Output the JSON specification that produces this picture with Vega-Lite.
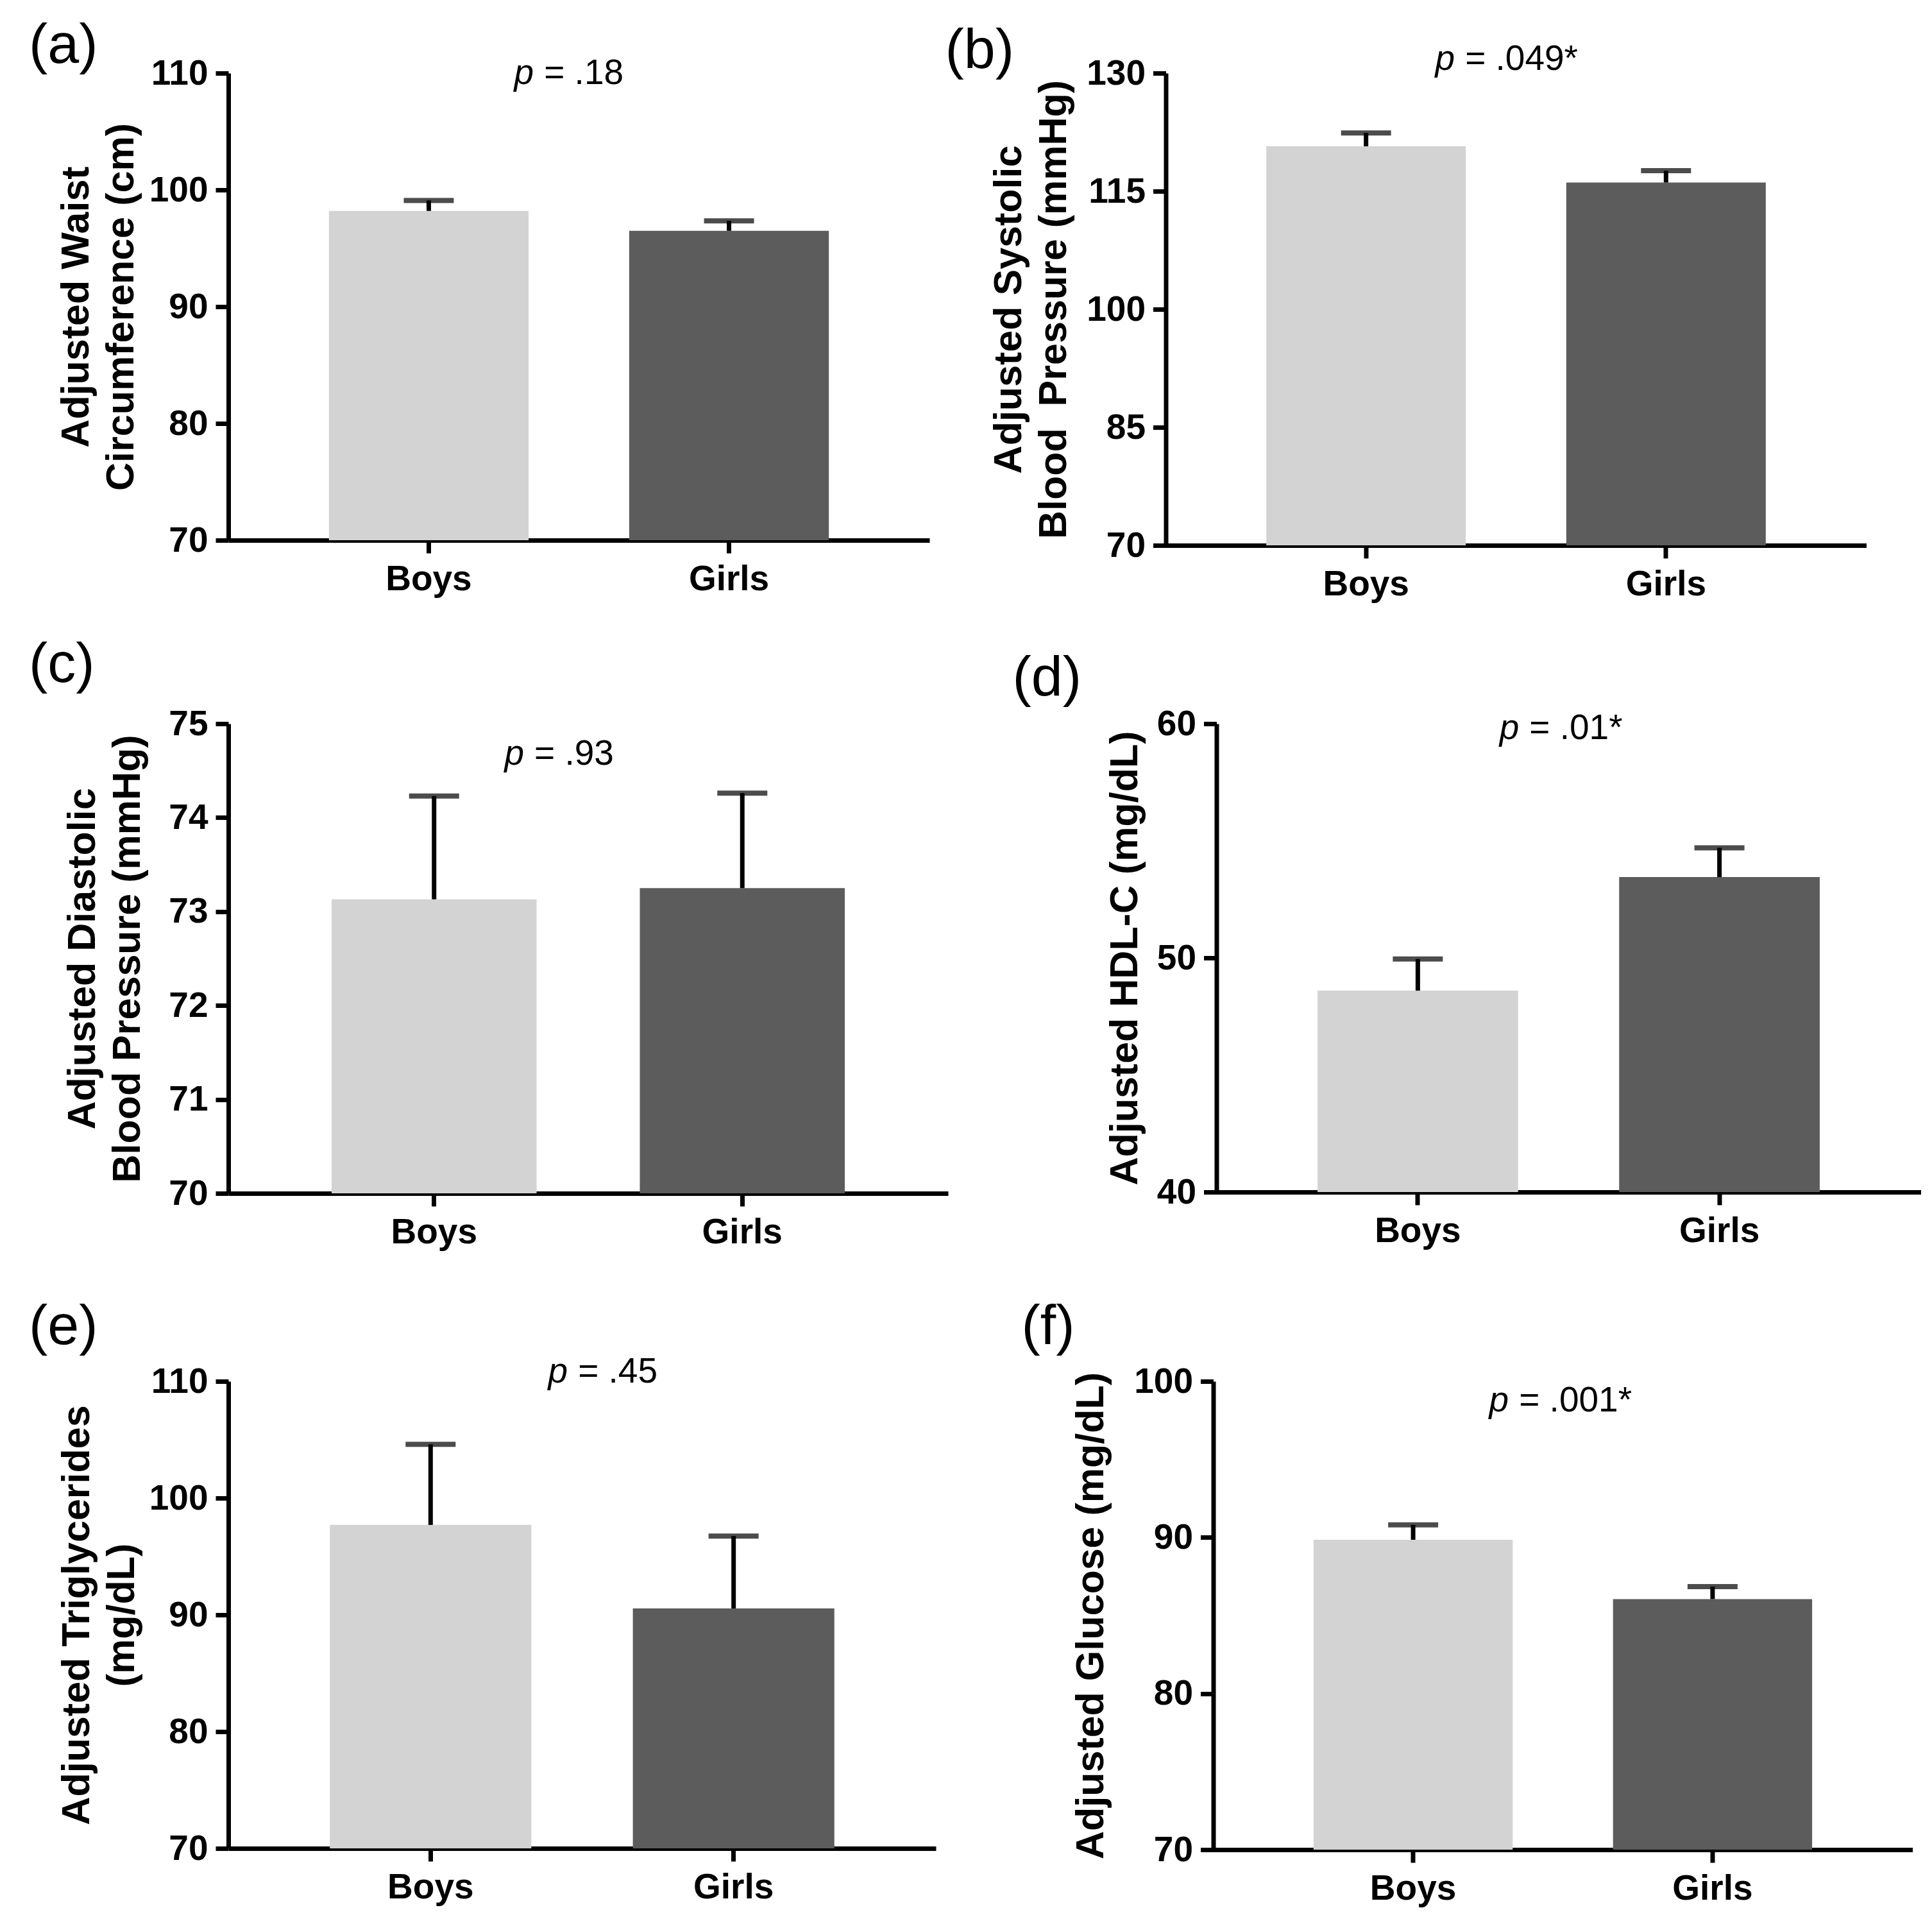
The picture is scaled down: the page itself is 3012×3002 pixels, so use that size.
{
  "$schema": "https://vega.github.io/schema/vega-lite/v6.json",
  "padding": {"left": 45, "top": 27, "right": 5, "bottom": 5},
  "background": "white",
  "datasets": {
    "bars": [
      {"panel": "a", "group": "Boys", "mean": 98.2, "upper": 99.1},
      {"panel": "a", "group": "Girls", "mean": 96.5, "upper": 97.35},
      {"panel": "b", "group": "Boys", "mean": 120.7, "upper": 122.4},
      {"panel": "b", "group": "Girls", "mean": 116.1, "upper": 117.6},
      {"panel": "c", "group": "Boys", "mean": 73.13, "upper": 74.23},
      {"panel": "c", "group": "Girls", "mean": 73.25, "upper": 74.26},
      {"panel": "d", "group": "Boys", "mean": 48.6, "upper": 49.95},
      {"panel": "d", "group": "Girls", "mean": 53.45, "upper": 54.7},
      {"panel": "e", "group": "Boys", "mean": 97.7, "upper": 104.6},
      {"panel": "e", "group": "Girls", "mean": 90.55, "upper": 96.75},
      {"panel": "f", "group": "Boys", "mean": 89.85, "upper": 90.8},
      {"panel": "f", "group": "Girls", "mean": 86.05, "upper": 86.85}
    ],
    "notes": [
      {"panel": "a", "p": "p", "val": "= .18"},
      {"panel": "b", "p": "p", "val": "= .049*"},
      {"panel": "c", "p": "p", "val": "= .93"},
      {"panel": "d", "p": "p", "val": "= .01*"},
      {"panel": "e", "p": "p", "val": "= .45"},
      {"panel": "f", "p": "p", "val": "= .001*"}
    ]
  },
  "spacing": 55,
  "vconcat": [
    {
      "spacing": 24.5,
      "hconcat": [
        {
          "width": 1093, "height": 728,
          "title": {"text": "(a)", "dx": -311, "offset": -29},
          "resolve": {"scale": {"x": "independent"}},
          "layer": [
            {"data": {"name": "bars"}, "transform": [{"filter": "datum.panel === 'a'"}], "mark": "bar",
             "encoding": {
               "x": {"field": "group", "type": "nominal", "scale": {"type": "band", "paddingInner": 0.335, "paddingOuter": 0.335}, "axis": {"title": null}},
               "y": {"field": "mean", "type": "quantitative", "scale": {"domain": [70, 110], "zero": false, "nice": false}, "axis": {"values": [70, 80, 90, 100, 110], "title": ["Adjusted Waist", "Circumference (cm)"], "titlePadding": 12}},
               "y2": {"datum": 70},
               "color": {"field": "group", "type": "nominal", "scale": {"domain": ["Boys", "Girls"], "range": ["#d3d3d3", "#5c5c5c"]}, "legend": null}
             }},
            {"data": {"name": "bars"}, "transform": [{"filter": "datum.panel === 'a'"}], "mark": {"type": "rule", "strokeWidth": 7, "color": "black"},
             "encoding": {
               "x": {"field": "group", "type": "nominal", "scale": {"type": "band", "paddingInner": 0.335, "paddingOuter": 0.335}, "axis": null},
               "y": {"field": "mean", "type": "quantitative"},
               "y2": {"field": "upper"}
             }},
            {"data": {"name": "bars"}, "transform": [{"filter": "datum.panel === 'a'"}], "mark": {"type": "tick", "size": 78, "thickness": 8, "color": "black"},
             "encoding": {
               "x": {"field": "group", "type": "nominal", "scale": {"type": "band", "paddingInner": 0.335, "paddingOuter": 0.335}, "axis": null},
               "y": {"field": "upper", "type": "quantitative"}
             }},
            {"data": {"name": "notes"}, "transform": [{"filter": "datum.panel === 'a'"}], "mark": {"type": "text", "align": "right", "baseline": "alphabetic", "fontStyle": "italic", "dx": -8},
             "encoding": {
               "x": {"datum": 0.443, "type": "quantitative", "scale": {"domain": [0, 1]}, "axis": null},
               "y": {"datum": 109.07, "type": "quantitative"},
               "text": {"field": "p"}
             }},
            {"data": {"name": "notes"}, "transform": [{"filter": "datum.panel === 'a'"}], "mark": {"type": "text", "align": "left", "baseline": "alphabetic", "dx": 8},
             "encoding": {
               "x": {"datum": 0.443, "type": "quantitative", "scale": {"domain": [0, 1]}, "axis": null},
               "y": {"datum": 109.07, "type": "quantitative"},
               "text": {"field": "val"}
             }}
          ]
        },
        {
          "width": 1092, "height": 736,
          "title": {"text": "(b)", "dx": -344, "offset": -59},
          "resolve": {"scale": {"x": "independent"}},
          "layer": [
            {"data": {"name": "bars"}, "transform": [{"filter": "datum.panel === 'b'"}], "mark": "bar",
             "encoding": {
               "x": {"field": "group", "type": "nominal", "scale": {"type": "band", "paddingInner": 0.335, "paddingOuter": 0.335}, "axis": {"title": null}},
               "y": {"field": "mean", "type": "quantitative", "scale": {"domain": [70, 130], "zero": false, "nice": false}, "axis": {"values": [70, 85, 100, 115, 130], "title": ["Adjusted Systolic", "Blood\u00a0 Pressure (mmHg)"], "titlePadding": 19}},
               "y2": {"datum": 70},
               "color": {"field": "group", "type": "nominal", "scale": {"domain": ["Boys", "Girls"], "range": ["#d3d3d3", "#5c5c5c"]}, "legend": null}
             }},
            {"data": {"name": "bars"}, "transform": [{"filter": "datum.panel === 'b'"}], "mark": {"type": "rule", "strokeWidth": 7, "color": "black"},
             "encoding": {
               "x": {"field": "group", "type": "nominal", "scale": {"type": "band", "paddingInner": 0.335, "paddingOuter": 0.335}, "axis": null},
               "y": {"field": "mean", "type": "quantitative"},
               "y2": {"field": "upper"}
             }},
            {"data": {"name": "bars"}, "transform": [{"filter": "datum.panel === 'b'"}], "mark": {"type": "tick", "size": 78, "thickness": 8, "color": "black"},
             "encoding": {
               "x": {"field": "group", "type": "nominal", "scale": {"type": "band", "paddingInner": 0.335, "paddingOuter": 0.335}, "axis": null},
               "y": {"field": "upper", "type": "quantitative"}
             }},
            {"data": {"name": "notes"}, "transform": [{"filter": "datum.panel === 'b'"}], "mark": {"type": "text", "align": "right", "baseline": "alphabetic", "fontStyle": "italic", "dx": -8},
             "encoding": {
               "x": {"datum": 0.42, "type": "quantitative", "scale": {"domain": [0, 1]}, "axis": null},
               "y": {"datum": 130.4, "type": "quantitative"},
               "text": {"field": "p"}
             }},
            {"data": {"name": "notes"}, "transform": [{"filter": "datum.panel === 'b'"}], "mark": {"type": "text", "align": "left", "baseline": "alphabetic", "dx": 8},
             "encoding": {
               "x": {"datum": 0.42, "type": "quantitative", "scale": {"domain": [0, 1]}, "axis": null},
               "y": {"datum": 130.4, "type": "quantitative"},
               "text": {"field": "val"}
             }}
          ]
        }
      ]
    },
    {
      "spacing": 76,
      "vconcat": [
        {
          "spacing": 100.5,
          "hconcat": [
            {
              "width": 1122, "height": 732,
              "title": {"text": "(c)", "dx": -311, "offset": 20},
              "resolve": {"scale": {"x": "independent"}},
              "layer": [
                {"data": {"name": "bars"}, "transform": [{"filter": "datum.panel === 'c'"}], "mark": "bar",
                 "encoding": {
                   "x": {"field": "group", "type": "nominal", "scale": {"type": "band", "paddingInner": 0.335, "paddingOuter": 0.335}, "axis": {"title": null}},
                   "y": {"field": "mean", "type": "quantitative", "scale": {"domain": [70, 75], "zero": false, "nice": false}, "axis": {"values": [70, 71, 72, 73, 74, 75], "format": "d", "title": ["Adjusted Diastolic", "Blood Pressure (mmHg)"], "titlePadding": 32}},
                   "y2": {"datum": 70},
                   "color": {"field": "group", "type": "nominal", "scale": {"domain": ["Boys", "Girls"], "range": ["#d3d3d3", "#5c5c5c"]}, "legend": null}
                 }},
                {"data": {"name": "bars"}, "transform": [{"filter": "datum.panel === 'c'"}], "mark": {"type": "rule", "strokeWidth": 7, "color": "black"},
                 "encoding": {
                   "x": {"field": "group", "type": "nominal", "scale": {"type": "band", "paddingInner": 0.335, "paddingOuter": 0.335}, "axis": null},
                   "y": {"field": "mean", "type": "quantitative"},
                   "y2": {"field": "upper"}
                 }},
                {"data": {"name": "bars"}, "transform": [{"filter": "datum.panel === 'c'"}], "mark": {"type": "tick", "size": 78, "thickness": 8, "color": "black"},
                 "encoding": {
                   "x": {"field": "group", "type": "nominal", "scale": {"type": "band", "paddingInner": 0.335, "paddingOuter": 0.335}, "axis": null},
                   "y": {"field": "upper", "type": "quantitative"}
                 }},
                {"data": {"name": "notes"}, "transform": [{"filter": "datum.panel === 'c'"}], "mark": {"type": "text", "align": "right", "baseline": "alphabetic", "fontStyle": "italic", "dx": -8},
                 "encoding": {
                   "x": {"datum": 0.418, "type": "quantitative", "scale": {"domain": [0, 1]}, "axis": null},
                   "y": {"datum": 74.56, "type": "quantitative"},
                   "text": {"field": "p"}
                 }},
                {"data": {"name": "notes"}, "transform": [{"filter": "datum.panel === 'c'"}], "mark": {"type": "text", "align": "left", "baseline": "alphabetic", "dx": 8},
                 "encoding": {
                   "x": {"datum": 0.418, "type": "quantitative", "scale": {"domain": [0, 1]}, "axis": null},
                   "y": {"datum": 74.56, "type": "quantitative"},
                   "text": {"field": "val"}
                 }}
              ]
            },
            {
              "width": 1098, "height": 730,
              "title": {"text": "(d)", "dx": -318, "offset": -1},
              "resolve": {"scale": {"x": "independent"}},
              "layer": [
                {"data": {"name": "bars"}, "transform": [{"filter": "datum.panel === 'd'"}], "mark": "bar",
                 "encoding": {
                   "x": {"field": "group", "type": "nominal", "scale": {"type": "band", "paddingInner": 0.335, "paddingOuter": 0.335}, "axis": {"title": null}},
                   "y": {"field": "mean", "type": "quantitative", "scale": {"domain": [40, 60], "zero": false, "nice": false}, "axis": {"values": [40, 50, 60], "title": "Adjusted HDL-C (mg/dL)", "titlePadding": 18}},
                   "y2": {"datum": 40},
                   "color": {"field": "group", "type": "nominal", "scale": {"domain": ["Boys", "Girls"], "range": ["#d3d3d3", "#5c5c5c"]}, "legend": null}
                 }},
                {"data": {"name": "bars"}, "transform": [{"filter": "datum.panel === 'd'"}], "mark": {"type": "rule", "strokeWidth": 7, "color": "black"},
                 "encoding": {
                   "x": {"field": "group", "type": "nominal", "scale": {"type": "band", "paddingInner": 0.335, "paddingOuter": 0.335}, "axis": null},
                   "y": {"field": "mean", "type": "quantitative"},
                   "y2": {"field": "upper"}
                 }},
                {"data": {"name": "bars"}, "transform": [{"filter": "datum.panel === 'd'"}], "mark": {"type": "tick", "size": 78, "thickness": 8, "color": "black"},
                 "encoding": {
                   "x": {"field": "group", "type": "nominal", "scale": {"type": "band", "paddingInner": 0.335, "paddingOuter": 0.335}, "axis": null},
                   "y": {"field": "upper", "type": "quantitative"}
                 }},
                {"data": {"name": "notes"}, "transform": [{"filter": "datum.panel === 'd'"}], "mark": {"type": "text", "align": "right", "baseline": "alphabetic", "fontStyle": "italic", "dx": -8},
                 "encoding": {
                   "x": {"datum": 0.437, "type": "quantitative", "scale": {"domain": [0, 1]}, "axis": null},
                   "y": {"datum": 59.34, "type": "quantitative"},
                   "text": {"field": "p"}
                 }},
                {"data": {"name": "notes"}, "transform": [{"filter": "datum.panel === 'd'"}], "mark": {"type": "text", "align": "left", "baseline": "alphabetic", "dx": 8},
                 "encoding": {
                   "x": {"datum": 0.437, "type": "quantitative", "scale": {"domain": [0, 1]}, "axis": null},
                   "y": {"datum": 59.34, "type": "quantitative"},
                   "text": {"field": "val"}
                 }}
              ]
            }
          ]
        },
        {
          "spacing": 133.5,
          "hconcat": [
            {
              "width": 1103, "height": 728,
              "title": {"text": "(e)", "dx": -311, "offset": -2},
              "resolve": {"scale": {"x": "independent"}},
              "layer": [
                {"data": {"name": "bars"}, "transform": [{"filter": "datum.panel === 'e'"}], "mark": "bar",
                 "encoding": {
                   "x": {"field": "group", "type": "nominal", "scale": {"type": "band", "paddingInner": 0.335, "paddingOuter": 0.335}, "axis": {"title": null}},
                   "y": {"field": "mean", "type": "quantitative", "scale": {"domain": [70, 110], "zero": false, "nice": false}, "axis": {"values": [70, 80, 90, 100, 110], "title": ["Adjusted Triglycerides", "(mg/dL)"], "titlePadding": 11}},
                   "y2": {"datum": 70},
                   "color": {"field": "group", "type": "nominal", "scale": {"domain": ["Boys", "Girls"], "range": ["#d3d3d3", "#5c5c5c"]}, "legend": null}
                 }},
                {"data": {"name": "bars"}, "transform": [{"filter": "datum.panel === 'e'"}], "mark": {"type": "rule", "strokeWidth": 7, "color": "black"},
                 "encoding": {
                   "x": {"field": "group", "type": "nominal", "scale": {"type": "band", "paddingInner": 0.335, "paddingOuter": 0.335}, "axis": null},
                   "y": {"field": "mean", "type": "quantitative"},
                   "y2": {"field": "upper"}
                 }},
                {"data": {"name": "bars"}, "transform": [{"filter": "datum.panel === 'e'"}], "mark": {"type": "tick", "size": 78, "thickness": 8, "color": "black"},
                 "encoding": {
                   "x": {"field": "group", "type": "nominal", "scale": {"type": "band", "paddingInner": 0.335, "paddingOuter": 0.335}, "axis": null},
                   "y": {"field": "upper", "type": "quantitative"}
                 }},
                {"data": {"name": "notes"}, "transform": [{"filter": "datum.panel === 'e'"}], "mark": {"type": "text", "align": "right", "baseline": "alphabetic", "fontStyle": "italic", "dx": -8},
                 "encoding": {
                   "x": {"datum": 0.487, "type": "quantitative", "scale": {"domain": [0, 1]}, "axis": null},
                   "y": {"datum": 109.9, "type": "quantitative"},
                   "text": {"field": "p"}
                 }},
                {"data": {"name": "notes"}, "transform": [{"filter": "datum.panel === 'e'"}], "mark": {"type": "text", "align": "left", "baseline": "alphabetic", "dx": 8},
                 "encoding": {
                   "x": {"datum": 0.487, "type": "quantitative", "scale": {"domain": [0, 1]}, "axis": null},
                   "y": {"datum": 109.9, "type": "quantitative"},
                   "text": {"field": "val"}
                 }}
              ]
            },
            {
              "width": 1090, "height": 730,
              "title": {"text": "(f)", "dx": -299, "offset": 13},
              "resolve": {"scale": {"x": "independent"}},
              "layer": [
                {"data": {"name": "bars"}, "transform": [{"filter": "datum.panel === 'f'"}], "mark": "bar",
                 "encoding": {
                   "x": {"field": "group", "type": "nominal", "scale": {"type": "band", "paddingInner": 0.335, "paddingOuter": 0.335}, "axis": {"title": null}},
                   "y": {"field": "mean", "type": "quantitative", "scale": {"domain": [70, 100], "zero": false, "nice": false}, "axis": {"values": [70, 80, 90, 100], "title": "Adjusted Glucose (mg/dL)", "titlePadding": 35}},
                   "y2": {"datum": 70},
                   "color": {"field": "group", "type": "nominal", "scale": {"domain": ["Boys", "Girls"], "range": ["#d3d3d3", "#5c5c5c"]}, "legend": null}
                 }},
                {"data": {"name": "bars"}, "transform": [{"filter": "datum.panel === 'f'"}], "mark": {"type": "rule", "strokeWidth": 7, "color": "black"},
                 "encoding": {
                   "x": {"field": "group", "type": "nominal", "scale": {"type": "band", "paddingInner": 0.335, "paddingOuter": 0.335}, "axis": null},
                   "y": {"field": "mean", "type": "quantitative"},
                   "y2": {"field": "upper"}
                 }},
                {"data": {"name": "bars"}, "transform": [{"filter": "datum.panel === 'f'"}], "mark": {"type": "tick", "size": 78, "thickness": 8, "color": "black"},
                 "encoding": {
                   "x": {"field": "group", "type": "nominal", "scale": {"type": "band", "paddingInner": 0.335, "paddingOuter": 0.335}, "axis": null},
                   "y": {"field": "upper", "type": "quantitative"}
                 }},
                {"data": {"name": "notes"}, "transform": [{"filter": "datum.panel === 'f'"}], "mark": {"type": "text", "align": "right", "baseline": "alphabetic", "fontStyle": "italic", "dx": -8},
                 "encoding": {
                   "x": {"datum": 0.43, "type": "quantitative", "scale": {"domain": [0, 1]}, "axis": null},
                   "y": {"datum": 98.07, "type": "quantitative"},
                   "text": {"field": "p"}
                 }},
                {"data": {"name": "notes"}, "transform": [{"filter": "datum.panel === 'f'"}], "mark": {"type": "text", "align": "left", "baseline": "alphabetic", "dx": 8},
                 "encoding": {
                   "x": {"datum": 0.43, "type": "quantitative", "scale": {"domain": [0, 1]}, "axis": null},
                   "y": {"datum": 98.07, "type": "quantitative"},
                   "text": {"field": "val"}
                 }}
              ]
            }
          ]
        }
      ]
    }
  ],
  "config": {
    "view": {"stroke": null},
    "font": "Liberation Sans",
    "title": {"anchor": "start", "frame": "group", "fontSize": 88, "fontWeight": "normal", "font": "Liberation Sans", "color": "black"},
    "axis": {"grid": false, "domainColor": "black", "domainWidth": 7, "tickColor": "black", "tickWidth": 7, "tickSize": 20, "labelColor": "black", "labelFont": "Liberation Sans", "labelFontSize": 55, "labelFontWeight": "bold", "titleColor": "black", "titleFont": "Liberation Sans", "titleFontSize": 61, "titleFontWeight": "bold", "titleLineHeight": 70},
    "axisX": {"labelPadding": 14, "labelAngle": 0},
    "axisY": {"labelPadding": 12},
    "text": {"font": "Liberation Sans", "fontSize": 55, "color": "black"}
  }
}
